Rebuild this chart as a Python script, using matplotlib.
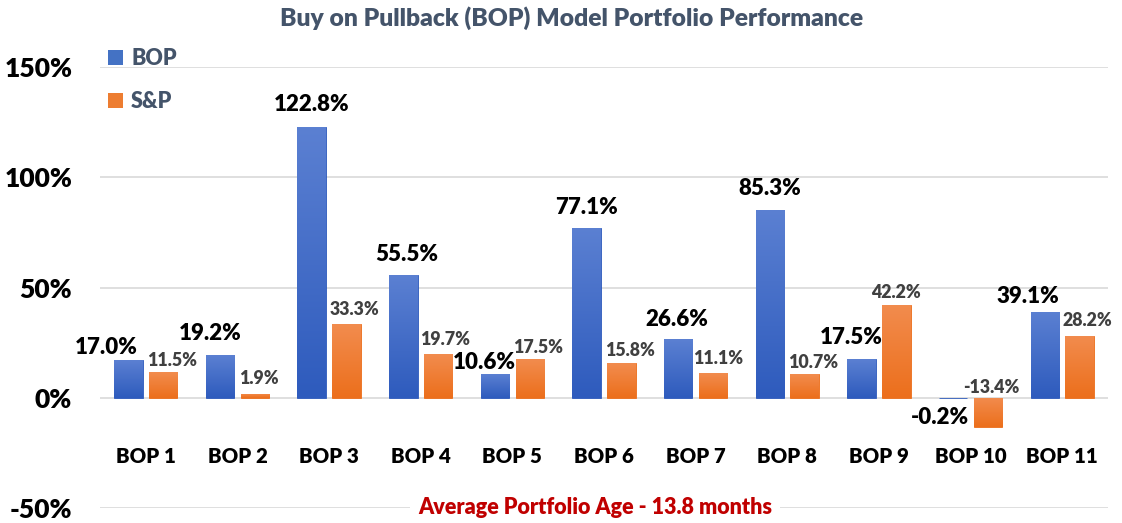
import numpy as np
import matplotlib
matplotlib.use('Agg')
import matplotlib.pyplot as plt
from matplotlib.colors import LinearSegmentedColormap
from matplotlib.patches import Patch

plt.rcParams['font.family'] = ['Lato', 'DejaVu Sans']
plt.rcParams['font.weight'] = 'bold'

categories = ['BOP 1', 'BOP 2', 'BOP 3', 'BOP 4', 'BOP 5', 'BOP 6',
              'BOP 7', 'BOP 8', 'BOP 9', 'BOP 10', 'BOP 11']
bop = [17.0, 19.2, 122.8, 55.5, 10.6, 77.1, 26.6, 85.3, 17.5, -0.2, 39.1]
snp = [11.5, 1.9, 33.3, 19.7, 17.5, 15.8, 11.1, 10.7, 42.2, -13.4, 28.2]
yticks = [-50, 0, 50, 100, 150]

# label nudges (pixels) relative to the bar end, like the hand-moved Excel labels
bop_nudge = [(-22, 13), (-10, 22), (0, 22), (3, 21), (-11, 12), (0, 20),
             (-1, 20), (0, 21), (-10, 22), (-13, -19), (-17, 15)]
snp_nudge = [(9, 12), (4, 15), (8, 15), (7, 15), (8, 12), (9, 12),
             (5, 15), (8, 12), (0, 12), (3, 40), (8, 15)]

W, H = 1122, 523
fig = plt.figure(figsize=(W / 100, H / 100), dpi=100)
ax = fig.add_axes([100 / W, (H - 508) / H, 1008 / W, 441 / H])

x = np.arange(len(categories))
bw = 0.31
off = 0.19

bars1 = ax.bar(x - off, bop, bw, zorder=3, color='#2E5BBD', edgecolor='#2E5BBD', linewidth=0.6)
bars2 = ax.bar(x + off, snp, bw, zorder=3, color='#EC6F1C', edgecolor='#EC6F1C', linewidth=0.6)


def shade(bars, top_col, bot_col):
    cmap = LinearSegmentedColormap.from_list('g', [bot_col, top_col])
    grad = np.linspace(0, 1, 128).reshape(-1, 1)
    for b in bars:
        x0, y0 = b.get_x(), b.get_y()
        w, h = b.get_width(), b.get_height()
        lo, hi = min(y0, y0 + h), max(y0, y0 + h)
        im = ax.imshow(grad, cmap=cmap, aspect='auto', origin='lower',
                       extent=(x0, x0 + w, lo, hi), zorder=3.5)
        im.set_clip_path(b)


shade(bars1, '#5B80D2', '#2E5BBD')
shade(bars2, '#F28C4E', '#EC6F1C')

ax.set_xlim(-0.5, len(categories) - 0.5)
ax.set_ylim(-50, 150)
ax.set_aspect('auto')
ax.set_yticks(yticks)
ax.set_yticklabels([f'{v}%' for v in yticks], fontsize=19, fontweight='heavy')
ax.tick_params(axis='y', length=0, pad=20)
ax.set_xticks([])
ax.grid(axis='y', color='#D9D9D9', linewidth=1.2, zorder=0)
for s in ax.spines.values():
    s.set_visible(False)

for i, v in enumerate(bop):
    ax.annotate(f'{v:.1f}%', (x[i] - off, v), xytext=bop_nudge[i],
                textcoords='offset pixels', ha='center', va='center',
                fontsize=16, fontweight='heavy', color='black', zorder=5)
for i, v in enumerate(snp):
    ax.annotate(f'{v:.1f}%', (x[i] + off, v), xytext=snp_nudge[i],
                textcoords='offset pixels', ha='center', va='center',
                fontsize=12.8, fontweight='heavy', color='#404040', zorder=5)

for i, c in enumerate(categories):
    ax.text(x[i], -26.5, c, ha='center', va='center', fontsize=14.7,
            fontweight='heavy', color='black')

ax.text(0.491, 0.0, 'Average Portfolio Age - 13.8 months', transform=ax.transAxes,
        ha='center', va='center', fontsize=15.5, fontweight='heavy', color='#C00000',
        bbox=dict(facecolor='white', edgecolor='none', pad=6), zorder=6)

fig.text(571.5 / W, 1 - 18 / H, 'Buy on Pullback (BOP) Model Portfolio Performance',
         ha='center', va='center', fontsize=17.7, fontweight='heavy', color='#44546A')

handles = [Patch(facecolor='#4472C4'), Patch(facecolor='#ED7D31')]
leg = fig.legend(handles, ['BOP', 'S&P'], loc='upper left',
                 bbox_to_anchor=(89 / W, 1 - 29 / H), frameon=False,
                 fontsize=15.5, handlelength=0.68, handleheight=0.68,
                 handletextpad=0.38, labelspacing=1.0)
for t in leg.get_texts():
    t.set_color('#44546A')
    t.set_fontweight('heavy')

fig.savefig('out.png', dpi=100)
